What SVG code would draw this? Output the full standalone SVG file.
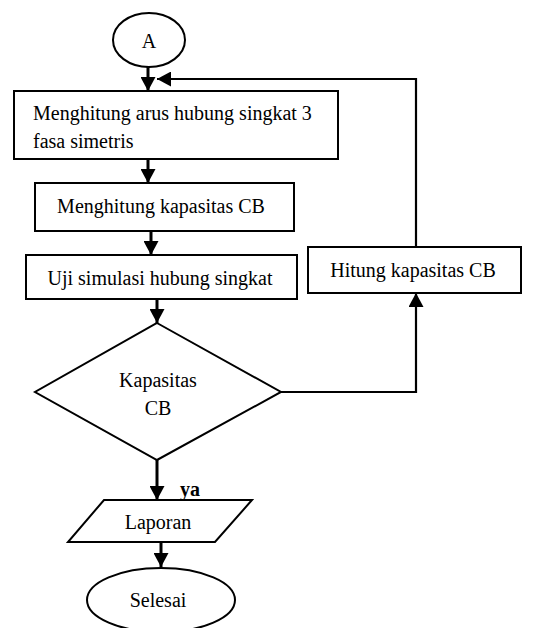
<svg xmlns="http://www.w3.org/2000/svg" width="547" height="628" viewBox="0 0 547 628">
<style>
.s{fill:#fff;stroke:#000;stroke-width:2}
.t{font-family:"Liberation Serif","Times New Roman",serif;font-size:20px;fill:#000}
.c{text-anchor:middle}
.a{fill:none;stroke:#000;stroke-width:3}
.l{fill:none;stroke:#000;stroke-width:2.2}
</style>
<defs>
<marker id="ah" viewBox="0 0 14 15" refX="14" refY="7.5" markerWidth="14" markerHeight="15" markerUnits="userSpaceOnUse" orient="auto">
<path d="M0,0 L14,7.5 L0,15 Z" fill="#000"/>
</marker>
</defs>
<rect width="547" height="628" fill="#fff"/>
<g id="connectors">
<line class="a" x1="148" y1="67" x2="148" y2="91" marker-end="url(#ah)"/>
<polyline class="l" points="416,247 416,79 157,79" marker-end="url(#ah)"/>
<line class="a" x1="148" y1="159" x2="148" y2="183" marker-end="url(#ah)"/>
<line class="a" x1="151" y1="231" x2="151" y2="255" marker-end="url(#ah)"/>
<line class="a" x1="157" y1="299" x2="157" y2="323" marker-end="url(#ah)"/>
<polyline class="l" points="281,392 416,392 416,293" marker-end="url(#ah)"/>
<line class="a" x1="157" y1="460" x2="157" y2="500" marker-end="url(#ah)"/>
<line class="a" x1="161" y1="542" x2="161" y2="567" marker-end="url(#ah)"/>
<text class="t" x="180" y="496" font-weight="bold">ya</text>
</g>
<g id="start">
<ellipse class="s" cx="149" cy="40" rx="36" ry="27"/>
<text class="t c" x="149" y="48">A</text>
</g>
<g id="box1">
<rect class="s" x="14" y="91" width="324" height="68"/>
<text class="t" x="33" y="120">Menghitung arus hubung singkat 3</text>
<text class="t" x="33" y="148">fasa simetris</text>
</g>
<g id="box2">
<rect class="s" x="35" y="183" width="259" height="48"/>
<text class="t c" x="161" y="213">Menghitung kapasitas CB</text>
</g>
<g id="box3">
<rect class="s" x="26" y="255" width="271" height="44"/>
<text class="t c" x="160" y="285">Uji simulasi hubung singkat</text>
</g>
<g id="hitung">
<rect class="s" x="308" y="247" width="213" height="46"/>
<text class="t c" x="413" y="277">Hitung kapasitas CB</text>
</g>
<g id="decision">
<polygon class="s" points="157,323 281,392 157,460 35,392"/>
<text class="t c" x="158" y="387">Kapasitas</text>
<text class="t c" x="158" y="415">CB</text>
</g>
<g id="laporan">
<polygon class="s" points="104,500 252,500 215,542 68,542"/>
<text class="t c" x="158" y="529">Laporan</text>
</g>
<g id="selesai">
<ellipse class="s" cx="161" cy="600" rx="74" ry="32"/>
<text class="t c" x="158" y="607">Selesai</text>
</g>
</svg>
